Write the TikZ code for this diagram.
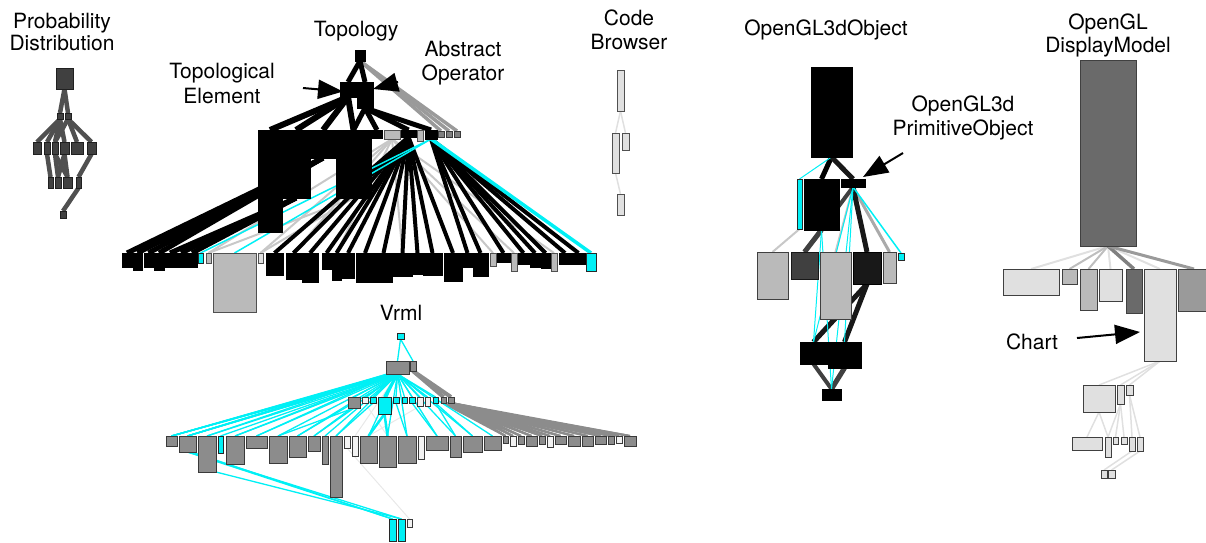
\documentclass[tikz,border=0pt]{standalone}
\usepackage{fontspec}
\setmainfont{TeX Gyre Heros}
\usetikzlibrary{arrows.meta}
\pgfdeclarelayer{bg}
\pgfsetlayers{bg,main}
\definecolor{cy}{RGB}{0,240,245}
\definecolor{cyb}{RGB}{40,40,40}
\definecolor{pdf}{RGB}{64,64,64}
\definecolor{pdb}{RGB}{32,32,32}
\definecolor{pde}{RGB}{80,80,80}
\definecolor{lg}{RGB}{224,224,224}
\definecolor{mg}{RGB}{186,186,186}
\definecolor{vg}{RGB}{140,140,140}
\definecolor{vb}{RGB}{58,58,58}
\definecolor{wh}{RGB}{242,242,242}
\definecolor{bd}{RGB}{80,80,80}
\definecolor{dg}{RGB}{106,106,106}
\definecolor{dk}{RGB}{24,24,24}
\definecolor{dk2}{RGB}{64,64,64}
\definecolor{g9}{RGB}{154,154,154}
\definecolor{g8}{RGB}{128,128,128}
\newcommand\bx[7]{\node[box,draw=#7,fill=#6,minimum width={(#4-#2)*1pt},minimum height={(#5-#3)*1pt}] (#1) at ({(#2+#4)/2},{(#3+#5)/2}) {};}
\tikzset{
  box/.style={line width=0.9pt,inner sep=0pt,outer sep=0pt},
  lbl/.style={font=\fontsize{21}{24}\selectfont,align=center,inner sep=0pt},
  arr/.style={line width=2pt,-{Triangle[length=25pt,width=19pt]}},
  ek/.style={line width=5pt,black},
  ek4/.style={line width=4pt,black},
  egy/.style={line width=4pt,color=pde},
  ecy/.style={line width=1.3pt,color=cy},
  ecyt/.style={line width=3.5pt,color=cy},
  elg/.style={line width=2pt,color={rgb,255:red,200;green,200;blue,200}},
  efa/.style={line width=1pt,color={rgb,255:red,232;green,232;blue,232}},
  evg/.style={line width=2.2pt,color=vg},
}
\begin{document}
\begin{tikzpicture}[x=1pt,y=-1pt]
\useasboundingbox (0,0) rectangle (1206,542);
% ---------------- labels
\node[lbl,font=\fontsize{21}{22}\selectfont] (tPD) at (62,32) {Probability\\Distribution};
\node[lbl] (tTo) at (356,31) {Topology};
\node[lbl,font=\fontsize{21}{25}\selectfont] (tTE) at (222,83) {Topological\\Element};
\node[lbl,font=\fontsize{21}{24}\selectfont] (tAO) at (463,63) {Abstract\\Operator};
\node[lbl,font=\fontsize{21}{24}\selectfont] (tCB) at (629,30) {Code\\Browser};
\node[lbl] (tGO) at (826,30) {OpenGL3dObject};
\node[lbl,font=\fontsize{21}{24}\selectfont] (tPO) at (963,118) {OpenGL3d\\PrimitiveObject};
\node[lbl,font=\fontsize{21}{23}\selectfont] (tDM) at (1108,35) {OpenGL\\DisplayModel};
\node[lbl] (tCh) at (1032,342) {Chart};
\node[lbl] (tVr) at (401,313) {Vrml};
% ---------------- Probability Distribution
\bx{P0}{56}{68}{73}{89}{pdf}{pdb}
\bx{P1}{57}{113}{63}{119}{pdf}{pdb}
\bx{P2}{65}{113}{71}{119}{pdf}{pdb}
\bx{P3}{33}{142}{41}{154}{pdf}{pdb}
\bx{P4}{44}{142}{50}{154}{pdf}{pdb}
\bx{P5}{52}{142}{58}{154}{pdf}{pdb}
\bx{P6}{60}{142}{69}{154}{pdf}{pdb}
\bx{P7}{71}{142}{83}{154}{pdf}{pdb}
\bx{P8}{87}{142}{96}{154}{pdf}{pdb}
\bx{P9}{48}{177}{53}{188}{pdf}{pdb}
\bx{P10}{55}{177}{61}{188}{pdf}{pdb}
\bx{P11}{63}{177}{72}{188}{pdf}{pdb}
\bx{P12}{76}{177}{81}{188}{pdf}{pdb}
\bx{P13}{60}{211}{66}{218}{pdf}{pdb}
% ---------------- Topology
\bx{T0}{355}{50}{365}{61}{black}{black}
\bx{T1}{340}{82}{356}{97}{black}{black}
\bx{T2}{357}{82}{373}{108}{black}{black}
\bx{R3a}{258}{130}{282}{232}{black}{black}
\bx{R3b}{282}{130}{310}{198}{black}{black}
\bx{R3c}{311}{130}{335}{158}{black}{black}
\bx{R3d}{336}{130}{371}{198}{black}{black}
\bx{R3e}{372}{130}{382}{138}{black}{black}
\bx{R3f}{384}{130}{400}{139}{mg}{bd}
\bx{R3g}{401}{130}{416}{137}{black}{black}
\bx{R3h}{417}{130}{423}{141}{mg}{bd}
\bx{R3i}{425}{130}{437}{139}{black}{black}
\bx{R3j}{438}{131}{444}{137}{g8}{vb}
\bx{R3k}{446}{131}{452}{137}{g8}{vb}
\bx{R3l}{454}{131}{460}{137}{g8}{vb}
\bx{N1}{122}{253}{132}{267}{black}{black}
\bx{N2}{133}{253}{142}{270}{black}{black}
\bx{N3}{144}{253}{153}{267}{black}{black}
\bx{N4}{154}{253}{164}{270}{black}{black}
\bx{N5}{165}{253}{175}{267}{black}{black}
\bx{N6}{176}{253}{186}{267}{black}{black}
\bx{N7}{187}{253}{197}{267}{black}{black}
\bx{N8}{198}{253}{203}{263}{cy}{cyb}
\bx{N9}{206}{253}{211}{263}{mg}{bd}
\bx{N10}{213}{253}{256}{312}{mg}{bd}
\bx{N11}{258}{253}{263}{263}{lg}{bd}
\bx{N12}{266}{253}{283}{275}{black}{black}
\bx{N13}{286}{253}{301}{279}{black}{black}
\bx{N14}{302}{253}{318}{282}{black}{black}
\bx{N15}{322}{253}{331}{269}{black}{black}
\bx{N16}{332}{253}{341}{280}{black}{black}
\bx{N17}{342}{253}{354}{278}{black}{black}
\bx{N18}{356}{253}{374}{282}{black}{black}
\bx{N19}{375}{253}{392}{282}{black}{black}
\bx{N20}{393}{253}{412}{276}{black}{black}
\bx{N21}{413}{253}{422}{274}{black}{black}
\bx{N22}{423}{253}{442}{275}{black}{black}
\bx{N23}{444}{253}{462}{281}{black}{black}
\bx{N24}{463}{253}{472}{267}{black}{black}
\bx{N25}{473}{253}{488}{276}{black}{black}
\bx{N26}{490}{253}{496}{266}{mg}{bd}
\bx{N27}{497}{253}{510}{262}{black}{black}
\bx{N28}{511}{253}{517}{271}{mg}{bd}
\bx{N29}{518}{253}{529}{264}{black}{black}
\bx{N30}{530}{253}{540}{267}{black}{black}
\bx{N31}{541}{253}{550}{268}{black}{black}
\bx{N32}{551}{253}{557}{271}{mg}{bd}
\bx{N33}{559}{253}{571}{264}{black}{black}
\bx{N34}{572}{253}{585}{264}{black}{black}
\bx{N35}{586}{253}{596}{271}{cy}{cyb}
% ---------------- Vrml
\bx{V0}{397}{333}{404}{339}{cy}{cyb}
\bx{V1}{386}{361}{409}{374}{vg}{vb}
\bx{V2}{410}{361}{416}{371}{vg}{vb}
\bx{Vr1}{348}{397}{360}{408}{vg}{vb}
\bx{Vr2}{362}{397}{368}{403}{wh}{vb}
\bx{Vr3}{370}{397}{376}{403}{cy}{cyb}
\bx{Vr4}{378}{397}{391}{414}{cy}{cyb}
\bx{Vr5}{393}{397}{399}{403}{cy}{cyb}
\bx{Vr6}{402}{397}{407}{403}{cy}{cyb}
\bx{Vr7}{409}{397}{415}{403}{cy}{cyb}
\bx{Vr8}{417}{397}{423}{406}{wh}{vb}
\bx{Vr9}{425}{397}{430}{406}{wh}{vb}
\bx{Vr10}{433}{397}{438}{403}{cy}{cyb}
\bx{Vr11}{441}{397}{446}{403}{vg}{vb}
\bx{Vr12}{448}{397}{454}{403}{vg}{vb}
\bx{W1}{166}{436}{177}{446}{vg}{vb}
\bx{W2}{179}{436}{196}{452}{vg}{vb}
\bx{W3}{198}{436}{216}{472}{vg}{vb}
\bx{W4}{218}{436}{223}{453}{cy}{cyb}
\bx{W5}{226}{436}{244}{464}{vg}{vb}
\bx{W6}{246}{436}{267}{448}{vg}{vb}
\bx{W7}{269}{436}{287}{463}{vg}{vb}
\bx{W8}{289}{436}{306}{457}{vg}{vb}
\bx{W9}{308}{436}{320}{451}{vg}{vb}
\bx{W10}{322}{436}{328}{464}{vg}{vb}
\bx{W11}{330}{436}{342}{497}{vg}{vb}
\bx{W12}{344}{436}{350}{448}{wh}{vb}
\bx{W13}{352}{436}{358}{456}{wh}{vb}
\bx{W14}{360}{436}{377}{463}{vg}{vb}
\bx{W15}{379}{436}{396}{467}{vg}{vb}
\bx{W16}{398}{436}{416}{463}{vg}{vb}
\bx{W17}{418}{436}{424}{459}{wh}{vb}
\bx{W18}{426}{436}{448}{450}{vg}{vb}
\bx{W19}{450}{436}{461}{457}{vg}{vb}
\bx{W20}{463}{436}{482}{452}{vg}{vb}
\bx{W21}{484}{436}{501}{450}{vg}{vb}
\bx{W22}{503}{436}{508}{443}{vg}{vb}
\bx{W23}{510}{436}{516}{446}{wh}{vb}
\bx{W24}{518}{436}{524}{444}{vg}{vb}
\bx{W25}{526}{436}{537}{446}{vg}{vb}
\bx{W26}{539}{436}{545}{444}{vg}{vb}
\bx{W27}{547}{436}{553}{447}{wh}{vb}
\bx{W28}{555}{436}{566}{444}{vg}{vb}
\bx{W29}{568}{436}{580}{446}{vg}{vb}
\bx{W30}{582}{436}{593}{446}{vg}{vb}
\bx{W31}{595}{436}{606}{444}{vg}{vb}
\bx{W32}{608}{436}{614}{444}{vg}{vb}
\bx{W33}{616}{436}{622}{443}{wh}{vb}
\bx{W34}{624}{436}{636}{446}{vg}{vb}
\bx{B1}{389}{519}{396}{541}{cy}{cyb}
\bx{B2}{398}{519}{405}{541}{cy}{cyb}
\bx{B3}{407}{519}{412}{527}{wh}{vb}
% ---------------- Code Browser
\bx{C1}{617}{70}{624}{111}{lg}{bd}
\bx{C2}{612}{133}{619}{173}{lg}{bd}
\bx{C3}{622}{133}{629}{150}{lg}{bd}
\bx{C4}{617}{194}{624}{215}{lg}{bd}
% ---------------- OpenGL3dObject
\bx{G0}{811}{67}{852}{157}{black}{black}
\bx{Gc}{797}{179}{802}{229}{cy}{cyb}
\bx{G1}{804}{179}{839}{230}{black}{black}
\bx{G2}{841}{179}{865}{187}{black}{black}
\bx{G3a}{757}{252}{788}{299}{mg}{dk2}
\bx{G3b}{791}{252}{818}{279}{dk2}{dk}
\bx{G3c}{820}{252}{851}{319}{mg}{dk2}
\bx{G3d}{853}{252}{881}{284}{dk}{black}
\bx{G3e}{883}{252}{896}{283}{mg}{dk2}
\bx{G3f}{898}{253}{904}{260}{cy}{cyb}
\bx{G4a}{800}{342}{827}{364}{black}{black}
\bx{G4b}{828}{342}{861}{368}{black}{black}
\bx{G5}{822}{389}{841}{400}{black}{black}
% ---------------- OpenGL DisplayModel
\bx{D0}{1080}{60}{1136}{246}{dg}{dk2}
\bx{D1}{1003}{269}{1059}{295}{lg}{dk2}
\bx{D2}{1062}{269}{1077}{284}{mg}{dk2}
\bx{D3}{1080}{269}{1097}{310}{mg}{dk2}
\bx{D4}{1099}{269}{1122}{301}{lg}{dk2}
\bx{D5}{1126}{269}{1142}{313}{dg}{dk2}
\bx{D6}{1144}{269}{1176}{361}{lg}{dk2}
\bx{D7}{1178}{269}{1210}{311}{g9}{dk2}
\bx{D8}{1083}{385}{1115}{412}{lg}{dk2}
\bx{D9}{1117}{385}{1124}{404}{lg}{dk2}
\bx{D10}{1126}{385}{1133}{395}{lg}{dk2}
\bx{D11}{1072}{437}{1102}{450}{lg}{dk2}
\bx{D12}{1105}{437}{1111}{457}{lg}{dk2}
\bx{D13}{1113}{437}{1118}{444}{lg}{dk2}
\bx{D14}{1121}{437}{1127}{444}{lg}{dk2}
\bx{D15}{1129}{437}{1135}{451}{lg}{dk2}
\bx{D16}{1137}{437}{1143}{451}{lg}{dk2}
\bx{D17}{1101}{470}{1107}{478}{lg}{dk2}
\bx{D18}{1108}{470}{1115}{478}{lg}{dk2}
% ---------------- arrows
\coordinate (cTE) at (303,88);
\coordinate (cAO) at (398,82);
\coordinate (cPO) at (903,153);
\coordinate (cCh) at (1077,338);
\draw[arr] (cTE) -- ([xshift=3pt,yshift=-2pt]T1.west);
\draw[arr] (cAO) -- ([yshift=6pt]T2.east);
\draw[arr] (cPO) -- ([xshift=-2pt,yshift=2pt]G2.north east);
\draw[arr] (cCh) -- ([xshift=-4pt,yshift=-17pt]D6.west);
% ================= edges (behind)
\begin{pgfonlayer}{bg}
% PD
\foreach \a/\b in {P0/P1,P0/P2,P1/P3,P1/P4,P1/P5,P1/P6,P2/P5,P2/P7,P2/P8,P4/P9,P5/P10,P5/P11,P6/P10,P6/P11,P8/P12,P12/P13}
  \draw[line width=4.5pt,color=pde] (\a.south) -- (\b.north);
% Topology
\foreach \b in {N9,N11,N26,N28,N32,N13,N16,N20}
  \draw[elg] (R3f.south) -- (\b.north);
\draw[elg] (N9.north) -- (R3d.south);
\draw[elg] (N11.north) -- (R3d.south);
\foreach \b in {R3j,R3k,R3l}
  \draw[line width=3.5pt,color=g9] (T0.south) -- (\b.north);
\foreach \b in {R3a,R3b,R3c,R3d}
  \draw[line width=6pt] (T1.south) -- (\b.north);
\foreach \b in {R3d,R3e,R3g,R3i}
  \draw[ek] (T2.south) -- (\b.north);
\draw[ek] (T0.south) -- (T1.north);
\draw[ek] (T0.south) -- (T2.north);
\foreach \b in {N1,N2,N3,N4}
  \draw[ek] (\b.north) -- (R3c.south);
\foreach \b in {N5,N6,N7}
  \draw[ek] (\b.north) -- (R3b.south);
\foreach \b in {N12,N13,N14,N15,N16,N17,N18,N19,N20,N21,N22,N23}
  \draw[ek4] (R3g.south) -- (\b.north);
\foreach \b in {N24,N25,N27,N29,N30,N31,N33,N34}
  \draw[ek4] (R3i.south) -- (\b.north);
\draw[ecy,line width=1.5pt] (R3i.south) -- (N8.north);
\draw[ecy,line width=1.5pt] (R3i.south) -- (N10.north);
\draw[ecyt] (R3i.south) -- (N35.north);
% Vrml
\foreach \b in {W5,W7,W9,W11,W13,W16,W18,W20}
  \draw[efa] (V1.south) -- (\b.north);
\draw[efa] (W12.south) -- (B3.north);
\draw[efa] (Vr2.south) -- (W15.north);
\draw[efa] (Vr8.south) -- (W14.north);
\draw[line width=4pt,color=vg] (V2.south) -- (Vr11.north);
\draw[line width=4pt,color=vg] (V2.south) -- (Vr12.north);
\foreach \b in {W22,W23,W24,W25,W26,W27,W28,W29,W30,W31,W32,W33,W34}
  {\draw[evg] (Vr11.south) -- (\b.north); \draw[evg] (Vr12.south) -- (\b.north);}
\draw[ecy] (V0.south) -- (V1.north);
\draw[ecy] (V0.south) -- (V2.north);
\foreach \b in {Vr1,Vr2,Vr3,Vr5,Vr6,Vr7,Vr8,Vr9,Vr10}
  \draw[ecy] (V1.south) -- (\b.north);
\draw[line width=3pt,color=cy] (V1.south) -- (Vr4.north);
\foreach \b in {W1,W2,W3,W4,W5,W6,W7,W8,W9,W10,W11,W14,W15,W16,W18,W19,W20,W21}
  \draw[ecy] (V1.south) -- (\b.north);
\foreach \s in {2,4,6,8,10}
  {\draw[ecy] ([xshift=-\s pt]V1.south) -- (W1.north);
   \draw[ecy] ([xshift=-\s pt]V1.south) -- (W2.north);}
\draw[ecy] ([xshift=-8pt]V1.south) -- (W3.north);
\draw[ecy] ([xshift=-5pt]V1.south) -- (W6.north);
\draw[ecy] ([xshift=-5pt]V1.south) -- (W5.north);
\draw[ecy] ([xshift=5pt]V1.south) -- (W8.north);
\draw[line width=2.5pt,color=cy] (Vr4.south) -- (W14.north);
\draw[line width=2.5pt,color=cy] (Vr4.south) -- (W15.north);
\draw[ecy] (Vr3.south) -- (W11.north);
\draw[ecy] (Vr5.south) -- (W16.north);
\draw[ecy] (Vr7.south) -- (W18.north);
\draw[ecy] (Vr10.south) -- (W19.north);
\draw[ecy] (Vr10.south) -- (W20.north);
\draw[ecy] (Vr1.south) -- (W7.north);
\draw[ecy] (Vr1.south) -- (W9.north);
\draw[ecy] (W2.south) -- (B1.north);
\draw[ecy] (W2.south) -- (B2.north);
\draw[ecy] ([xshift=4pt]W2.south) -- (B1.north);
\draw[ecy] (W3.south east) -- (B2.north);
% Code Browser
\foreach \a/\b in {C1/C2,C1/C3,C2/C4}
  \draw[line width=1.5pt,color=lg] (\a.south) -- (\b.north);
% OpenGL3dObject
\draw[line width=2pt,color={rgb,255:red,200;green,200;blue,200}] (Gc.south) -- (G3a.north);
\draw[line width=2pt,color={rgb,255:red,200;green,200;blue,200}] (G2.south) -- (G3c.north);
\draw[line width=3pt,color={rgb,255:red,170;green,170;blue,170}] (G2.south) -- (G3e.north);
\draw[line width=4pt,color=dk2] (G2.south) -- (G3b.north);
\draw[line width=5pt,color=dk2] (G1.south) -- (G3b.north);
\draw[line width=5pt,color=dk] (G2.south) -- (G3d.north);
\draw[line width=5pt,color=black] (G0.south) -- (G1.north);
\draw[line width=5pt,color=dk] (G0.south) -- (G2.north);
\draw[line width=5pt,color=dk] (G3d.south) -- (G4a.north);
\draw[line width=5pt,color=dk] (G3d.south) -- (G4b.north);
\draw[line width=4pt,color=dk2] (G4a.south) -- (G5.north);
\draw[line width=5pt,color=dk2] (G4b.south) -- (G5.north);
\draw[ecy,line width=1pt] (G0.south) -- (Gc.north);
\draw[ecy,line width=1.5pt] (G2.south) -- (G3f.north);
\foreach \a/\b in {G1/G4a,G1/G5,G2/G4b,G2/G5,G2/G4a}
  \draw[ecy,line width=1pt] (\a.south) -- (\b.north);
% DisplayModel
\foreach \b in {D1,D4,D6}
  \draw[line width=2pt,color=lg] (D0.south) -- (\b.north);
\foreach \b in {D2,D3}
  \draw[line width=2pt,color={rgb,255:red,190;green,190;blue,190}] (D0.south) -- (\b.north);
\draw[line width=3.5pt,color=g8] (D0.south) -- (D5.north);
\draw[line width=3pt,color=g9] (D0.south) -- (D7.north);
\foreach \a/\b in {D6/D8,D6/D9,D6/D10,D8/D11,D8/D12,D9/D12,D9/D13,D9/D14,D10/D15,D10/D16,D15/D17,D16/D18}
  \draw[line width=1.5pt,color=lg] (\a.south) -- (\b.north);
\end{pgfonlayer}
\end{tikzpicture}
\end{document}
